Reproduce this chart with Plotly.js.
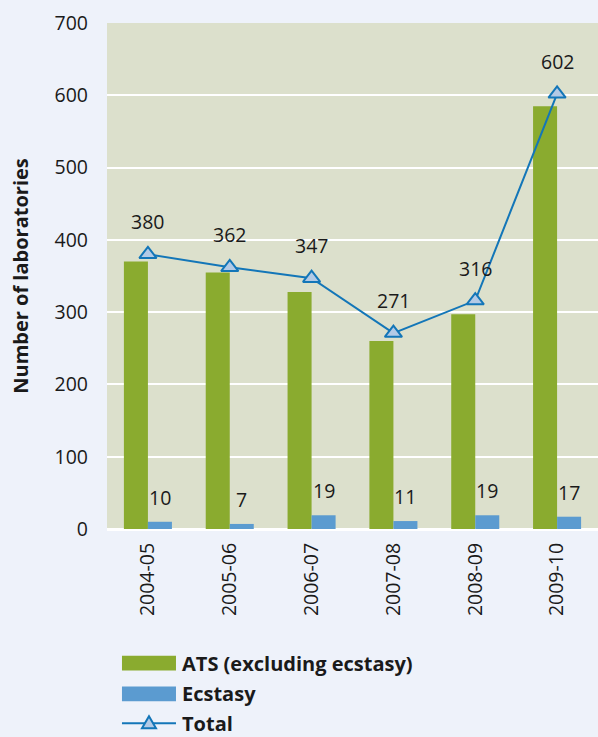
<!DOCTYPE html>
<html>
<head>
<meta charset="utf-8">
<script src="https://cdn.plot.ly/plotly-3.0.1.min.js"></script>
<style>html,body{margin:0;padding:0;background:#eef2fa;}#chart{width:598px;height:737px;}</style>
</head>
<body>
<div id="chart"></div>
<script>
const categories = ["2004-05", "2005-06", "2006-07", "2007-08", "2008-09", "2009-10"];
const atsValues = [370, 355, 328, 260, 297, 585];
const ecstasyValues = [10, 7, 19, 11, 19, 17];
const totalValues = [380, 362, 347, 271, 316, 602];
const seriesNames = ["ATS (excluding ecstasy)", "Ecstasy", "Total"];
const yTitle = "Number of laboratories";

const FONT = "Open Sans, Noto Sans, sans-serif";
const FS = 19.5, FSB = 20;
const green = "#8aab2f", blue = "#5b9bd0", lineBlue = "#1376b8", markerFill = "#b3cae6";

const traces = [
  {type: "bar", name: seriesNames[0], x: categories, y: atsValues, marker: {color: green}, showlegend: false, hoverinfo: "none"},
  {type: "bar", name: seriesNames[1], x: categories, y: ecstasyValues, marker: {color: blue}, showlegend: false, hoverinfo: "none"},
  {type: "scatter", mode: "lines+markers", name: seriesNames[2], x: categories, y: totalValues,
   line: {color: lineBlue, width: 2},
   marker: {symbol: "triangle-up", size: 15, color: markerFill, line: {color: lineBlue, width: 2}},
   showlegend: false, cliponaxis: false, hoverinfo: "none"}
];

const annotations = [];
categories.forEach((c, i) => {
  annotations.push({x: c, y: totalValues[i], xref: "x", yref: "y", text: String(totalValues[i]),
    showarrow: false, yanchor: "bottom", yshift: 17, font: {family: FONT, size: FS, color: "#1a1a1a"}});
  annotations.push({x: c, y: ecstasyValues[i], xref: "x", yref: "y", text: String(ecstasyValues[i]),
    showarrow: false, yanchor: "bottom", xshift: 12, yshift: 9, font: {family: FONT, size: FS, color: "#1a1a1a"}});
});

// legend (drawn manually)
const legY = [-0.265, -0.326, -0.384];
const legX0 = 0.0305, legX1 = 0.1405, legTX = 0.148;
seriesNames.forEach((n, i) => {
  annotations.push({xref: "paper", yref: "paper", x: legTX, y: legY[i], xanchor: "left", yanchor: "middle",
    text: "<b>" + n + "</b>", showarrow: false, font: {family: FONT, size: FSB, color: "#1a1a1a"}});
});
const shapes = [
  {type: "rect", xref: "paper", yref: "paper", x0: legX0, x1: legX1, y0: legY[0] - 0.0145, y1: legY[0] + 0.0145, fillcolor: green, line: {width: 0}},
  {type: "rect", xref: "paper", yref: "paper", x0: legX0, x1: legX1, y0: legY[1] - 0.0145, y1: legY[1] + 0.0145, fillcolor: blue, line: {width: 0}},
  {type: "line", xref: "paper", yref: "paper", x0: legX0, x1: legX1, y0: legY[2], y1: legY[2], line: {color: lineBlue, width: 2}},
  {type: "path", xref: "paper", yref: "paper", xsizemode: "pixel", ysizemode: "pixel",
   xanchor: (legX0 + legX1) / 2, yanchor: legY[2], path: "M-7,-5 L7,-5 L0,7 Z",
   fillcolor: markerFill, line: {color: lineBlue, width: 2}}
];

const layout = {
  width: 598, height: 737,
  paper_bgcolor: "#eef2fa", plot_bgcolor: "#dce0cc",
  margin: {l: 107, r: 0, t: 23, b: 208},
  barmode: "group", bargap: 0.413, bargroupgap: 0,
  font: {family: FONT, size: FS, color: "#1a1a1a"},
  xaxis: {type: "category", tickangle: -90, showgrid: false, zeroline: false, showline: false, ticks: "",
    tickfont: {family: FONT, size: FS, color: "#1a1a1a"}, ticklabelstandoff: 9},
  yaxis: {range: [0, 700], dtick: 100, showgrid: true, gridcolor: "#ffffff", gridwidth: 2,
    zeroline: true, zerolinecolor: "#ffffff", zerolinewidth: 3, showline: false, ticks: "",
    tickfont: {family: FONT, size: FS, color: "#1a1a1a"}, ticklabelstandoff: 18,
    title: {text: "<b>" + yTitle + "</b>", font: {family: FONT, size: FSB, color: "#1a1a1a"}, standoff: 20}},
  annotations: annotations, shapes: shapes
};

Plotly.newPlot("chart", traces, layout, {displayModeBar: false, staticPlot: true});
</script>
</body>
</html>
